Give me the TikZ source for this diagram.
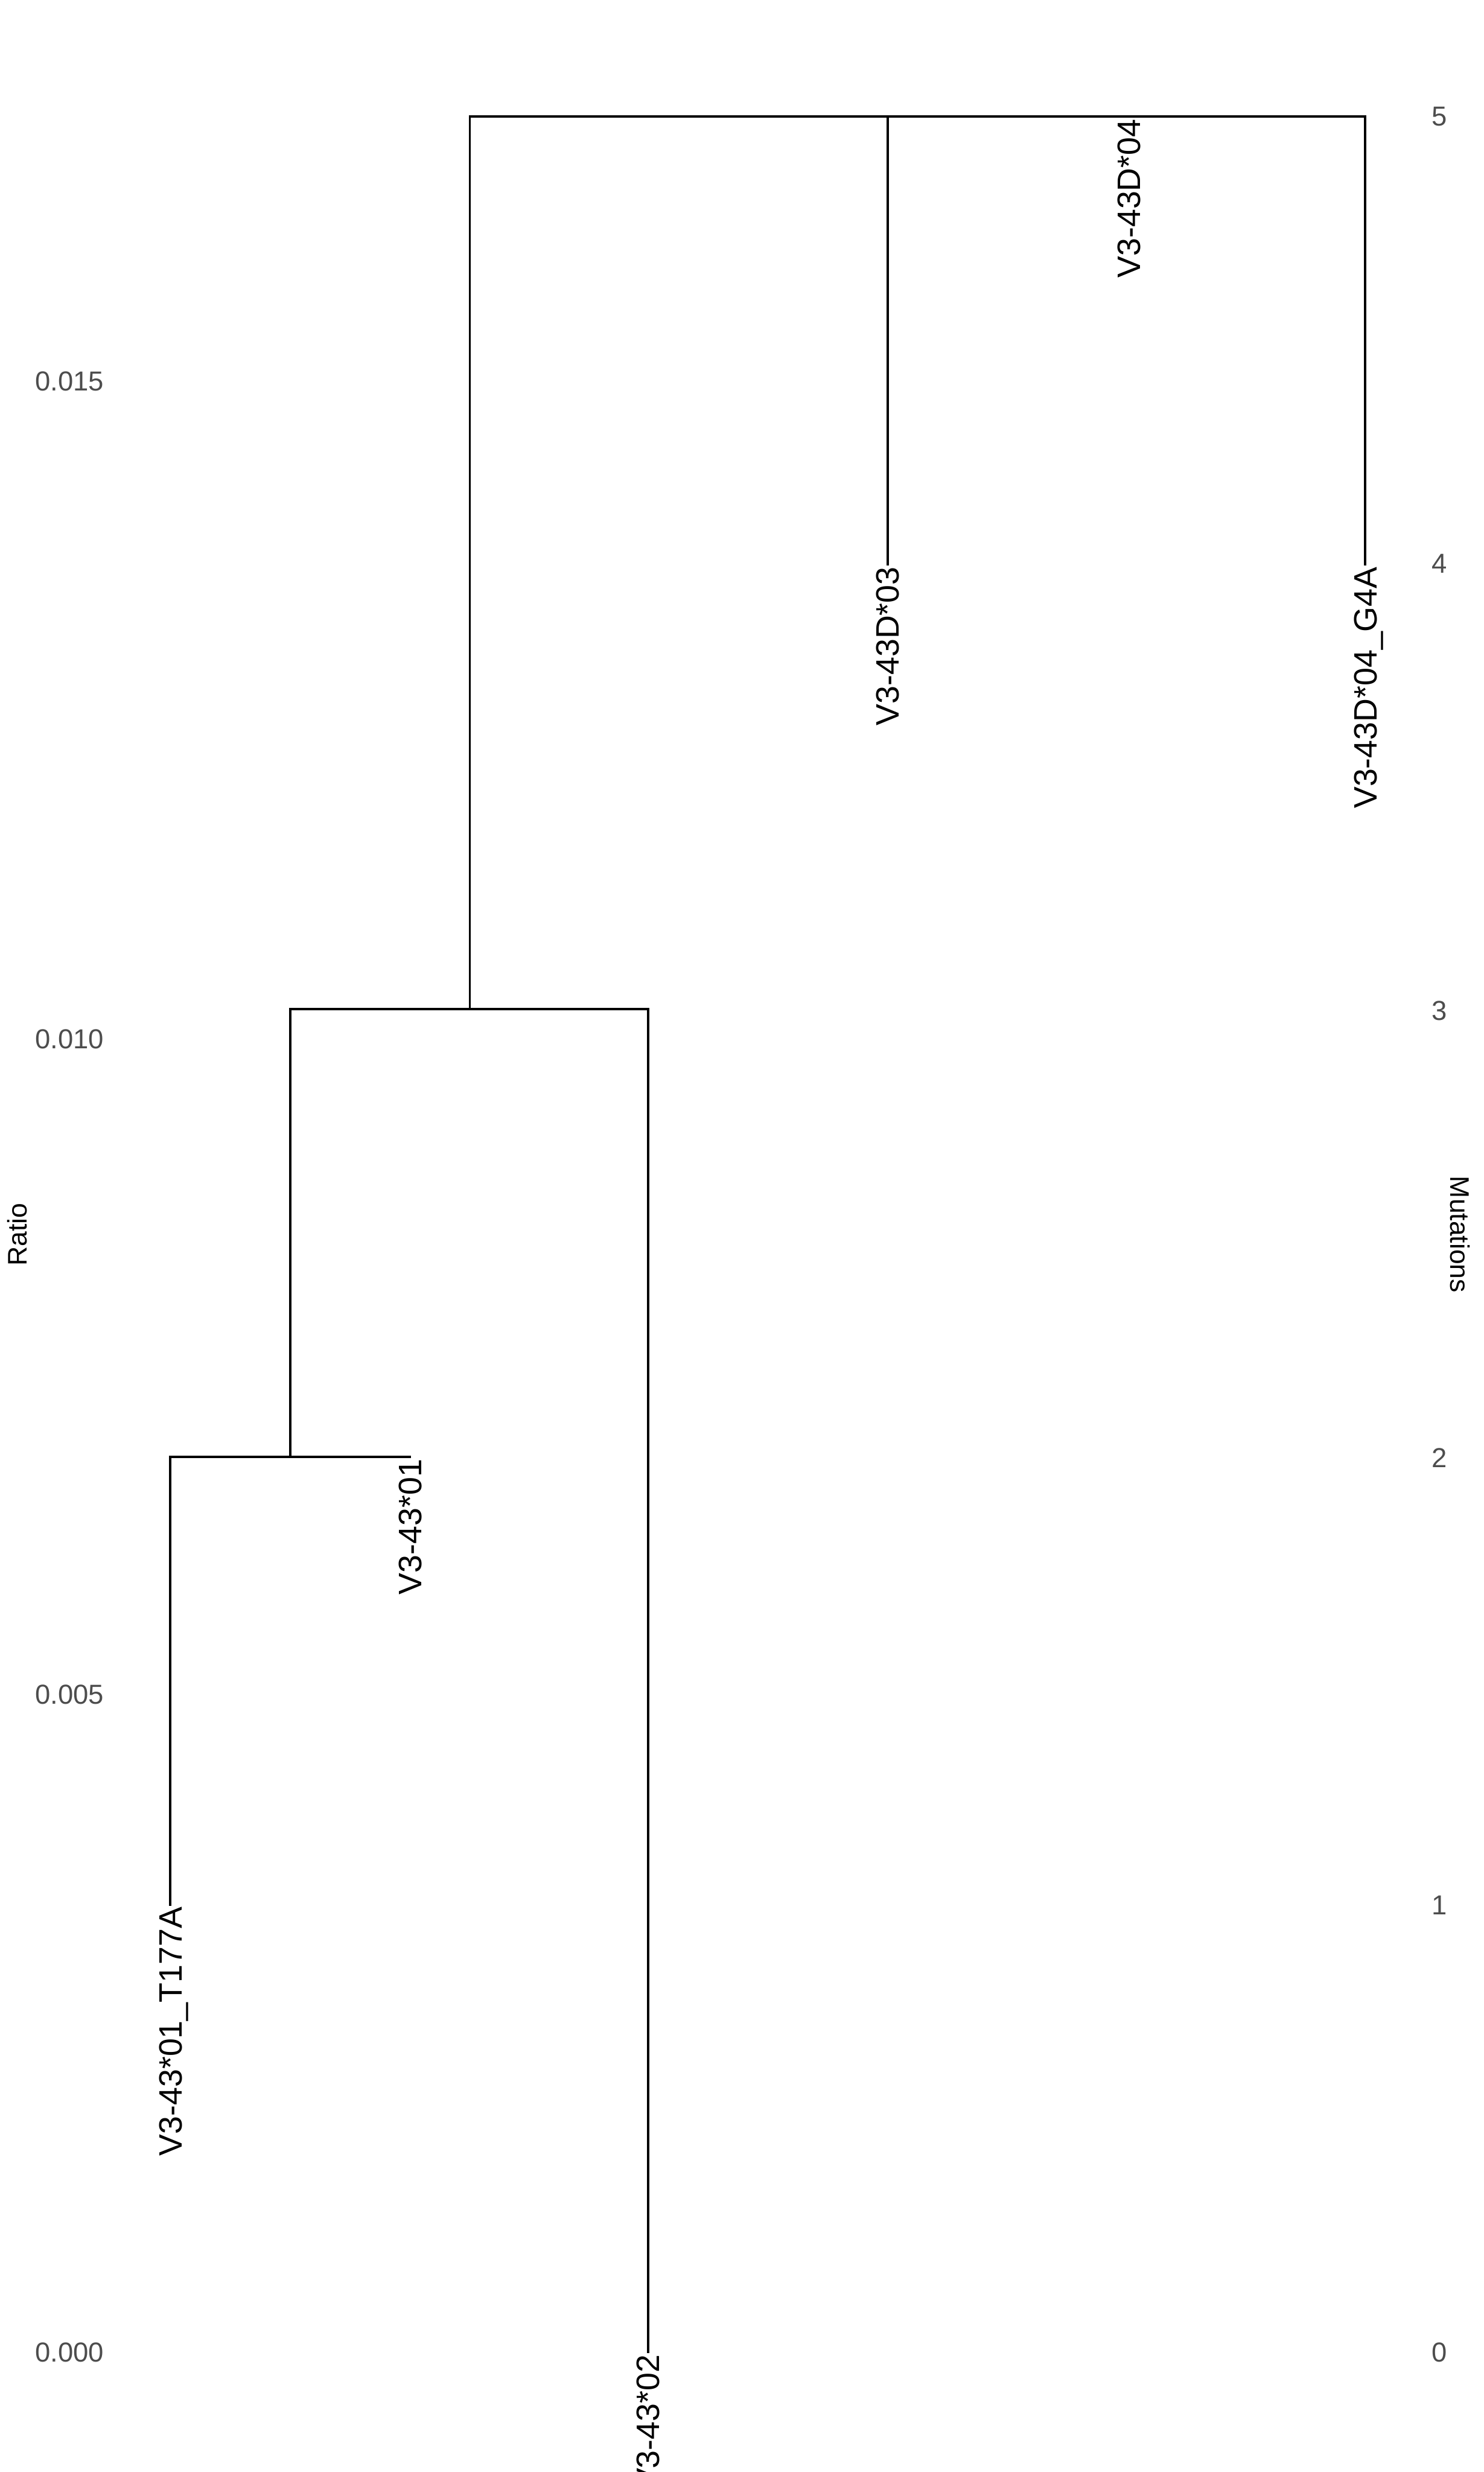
\documentclass[tikz,border=0pt]{standalone}
\usepackage{fontspec}
\setmainfont{Liberation Sans}
\definecolor{axisgray}{HTML}{4D4D4D}
\begin{document}
\begin{tikzpicture}[x=0.036728cm,y=-0.036728cm,
    branch/.style={line width=1.5pt,line cap=rect},
    leaf/.style={rotate=90,anchor=east,inner xsep=1.5pt,inner ysep=0pt,
      text height=15.4pt,text depth=0pt,font=\fontsize{21.5}{21.5}\selectfont},
    ticklab/.style={text=axisgray,inner sep=0pt,font=\fontsize{18.2}{18.2}\selectfont},
    axtitle/.style={inner sep=0pt,font=\fontsize{17.8}{17.8}\selectfont}]
        \useasboundingbox (0,0) rectangle (941,1568);
        % Leaves
        \node[leaf] (t177a) at (108,1208) {V3-43*01\_T177A};
        \node[leaf] (v01) at (260,924) {V3-43*01};
        \node[leaf] (v02) at (411,1492) {V3-43*02};
        \node[leaf] (d03) at (563,358) {V3-43D*03};
        \node[leaf] (d04) at (716,74) {V3-43D*04};
        \node[leaf] (g4a) at (866,358) {V3-43D*04\_G4A};
        % Inner merges
        \coordinate (n1) at (184,924);
        \coordinate (n2) at (298,640);
        \coordinate (top) at (298,74);
        % Branches
        \draw[branch] (t177a.east) |- (v01.east);
        \draw[branch] (n1) |- (n2) -| (v02.east);
        \draw[branch] (n2) -- (top) -| (g4a.east);
        \draw[branch] (d03.east) -- (d03.east |- top);
        % Left axis
        \foreach \v/\y in {0.000/1492,0.005/1075,0.010/659,0.015/242}
            \node[ticklab,anchor=east] (ratio\y) at (66,\y) {\v};
        \node[axtitle,rotate=90] (ratiotitle) at (11,783) {Ratio};
        % Right axis
        \foreach \m in {0,...,5}
            \node[ticklab,anchor=west] (mut\m) at (908,{1492-283.6*\m}) {\m};
        \node[axtitle,rotate=-90] (muttitle) at (926,783) {Mutations};
    \end{tikzpicture}
\end{document}
